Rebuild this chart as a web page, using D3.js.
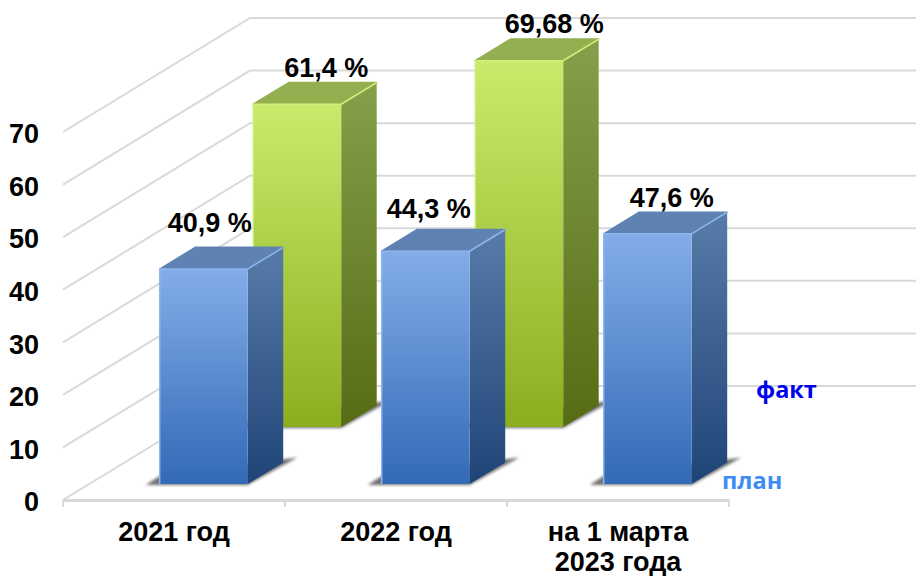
<!DOCTYPE html>
<html>
<head>
<meta charset="utf-8">
<script src="https://cdn.jsdelivr.net/npm/d3@7"></script>
<style>
  html, body { margin: 0; padding: 0; background: #fff; }
  svg { display: block; }
  text { font-family: "Liberation Sans", Arial, sans-serif; font-weight: bold; fill: #000; }
</style>
</head>
<body>
<svg id="chart" width="916" height="576"></svg>
<script>
const categories = ["2021 год", "2022 год", "на 1 марта|2023 года"];
const planValues = [40.9, 44.3, 47.6];
const factValues = [61.4, 69.68];
const yTicks = [0, 10, 20, 30, 40, 50, 60, 70];
const seriesNames = ["факт", "план"];

const svg = d3.select("#chart");

const x = d3.scaleBand().domain(categories).range([63, 729]);
const y = d3.scaleLinear().domain([0, 70]).range([500, 132]);

// oblique projection: depth 0 is the front plane, 1 is the back wall
const depthX = 187;
const depthY = 114;
const px = (xv, z) => xv + z * depthX;
const py = (v, z) => y(v) - z * depthY;

const barW = 88;
const barInset = 70.5;
const barDepth = 0.19;
const planZ = 0.14;
const factZ = 0.64;
const gridColor = "#d9d9d9";
const fontSize = "27px";

const defs = svg.append("defs");
function gradient(id, x2, y2, c0, c1) {
  const g = defs.append("linearGradient").attr("id", id)
    .attr("x1", 0).attr("y1", 0).attr("x2", x2).attr("y2", y2);
  g.append("stop").attr("offset", 0).attr("stop-color", c0);
  g.append("stop").attr("offset", 1).attr("stop-color", c1);
}
gradient("planFront", 0, 1, "#83ade9", "#3369b6");
gradient("planSide", 0, 1, "#577ca9", "#1f4477");
gradient("factFront", 0, 1, "#c8eb6b", "#8bae20");
gradient("factSide", 0, 1, "#84a04a", "#566c14");
defs.append("filter").attr("id", "soft")
  .attr("x", "-30%").attr("y", "-30%").attr("width", "160%").attr("height", "160%")
  .append("feGaussianBlur").attr("stdDeviation", 1.6);
defs.append("filter").attr("id", "edge")
  .append("feGaussianBlur").attr("stdDeviation", 0.5);

// walls
const grid = svg.append("g").attr("fill", "none")
  .attr("stroke", gridColor).attr("stroke-width", 2);
grid.selectAll("path").data(yTicks).join("path")
  .attr("d", (d) => d3.line()([
    [px(63, 0), py(d, 0)],
    [px(63, 1), py(d, 1)],
    [px(729, 1), py(d, 1)],
  ]));

// axes
const xAxis = svg.append("g")
  .attr("transform", `translate(0,${y(0)})`)
  .call(d3.axisBottom(x).tickSize(0).tickPadding(19));
xAxis.select(".domain").attr("stroke", gridColor).attr("stroke-width", 3);
xAxis.selectAll("text").style("font-size", fontSize).each(function (d) {
  const lines = d.split("|");
  const t = d3.select(this).text(null).attr("dy", null).attr("y", 41);
  lines.forEach((l, i) => {
    t.append("tspan").attr("x", 0).attr("y", 41 + i * 30).text(l);
  });
});
xAxis.selectAll(".edge-tick")
  .data([...categories.map((c) => x(c)), 729])
  .join("line")
  .attr("x1", (d) => d).attr("x2", (d) => d)
  .attr("y1", 0).attr("y2", 7)
  .attr("stroke", gridColor).attr("stroke-width", 2);

const yAxis = svg.append("g")
  .attr("transform", "translate(39,0)")
  .call(d3.axisLeft(y).tickValues(yTicks).tickSize(0).tickPadding(0));
yAxis.select(".domain").remove();
yAxis.selectAll("text").style("font-size", fontSize).attr("dy", "0.4em");

// one box per value
function drawBar(parent, cat, value, z, key) {
  const x0 = x(cat) + barInset;
  const x1 = x0 + barW;
  const z1 = z + barDepth;
  const g = parent.append("g");
  const poly = (pts) => d3.line()(pts) + "Z";
  const topColor = key === "plan" ? "#5e83b3" : "#94af50";

  // floor shadow, only its tips show past the box
  g.append("path")
    .attr("d", poly([
      [px(x0, z) - 14, py(0, z) + 1],
      [px(x0, z), py(0, z) - 8],
      [px(x1, z1) + 14, py(0, z1) - 5],
      [px(x1, z), py(0, z) + 1],
    ]))
    .attr("fill", "#707070")
    .attr("filter", "url(#soft)");

  g.append("path")
    .attr("d", poly([
      [px(x1, z), py(value, z)],
      [px(x1, z1), py(value, z1)],
      [px(x1, z1), py(0, z1)],
      [px(x1, z), py(0, z)],
    ]))
    .attr("fill", `url(#${key}Side)`);

  g.append("path")
    .attr("d", poly([
      [px(x0, z), py(value, z)],
      [px(x0, z1), py(value, z1)],
      [px(x1, z1), py(value, z1)],
      [px(x1, z), py(value, z)],
    ]))
    .attr("fill", topColor)
    .attr("stroke", topColor)
    .attr("stroke-width", 1.5)
    .attr("stroke-linejoin", "round");

  g.append("rect")
    .attr("x", px(x0, z))
    .attr("y", py(value, z))
    .attr("width", barW)
    .attr("height", y(0) - y(value))
    .attr("rx", 1.5)
    .attr("fill", `url(#${key}Front)`);

  // light bevel along the front top and the side edge
  g.append("path")
    .attr("d", d3.line()([
      [px(x0, z), py(0, z)],
      [px(x0, z), py(value, z)],
      [px(x1, z), py(value, z)],
      [px(x1, z1), py(value, z1)],
    ]))
    .attr("fill", "none")
    .attr("stroke", key === "plan" ? "#8fb6ee" : "#d3f07e")
    .attr("stroke-width", 1.5)
    .attr("filter", "url(#edge)");
}

const bars = svg.append("g");
factValues.forEach((v, i) => drawBar(bars, categories[i], v, factZ, "fact"));
planValues.forEach((v, i) => drawBar(bars, categories[i], v, planZ, "plan"));

// value labels sit where they were placed by hand in the original
const fmt = (v) => String(v).replace(".", ",") + " %";
const planNudge = [[6, -15], [3, -11], [24, -5]];
const factNudge = [[29, -6], [35, -6]];
function drawLabels(values, z, nudge) {
  svg.append("g").selectAll("text").data(values).join("text")
    .attr("text-anchor", "middle")
    .style("font-size", fontSize)
    .attr("x", (d, i) => px(x(categories[i]) + barInset + barW / 2, z) + nudge[i][0])
    .attr("y", (d, i) => py(d, z + barDepth) + nudge[i][1])
    .text(fmt);
}
drawLabels(factValues, factZ, factNudge);
drawLabels(planValues, planZ, planNudge);

// series names
const nameColors = ["#0000f0", "#3b8cf5"];
const nameX = [756, 722];
const nameY = [398, 489];
svg.append("g").selectAll("text").data(seriesNames).join("text")
  .attr("x", (d, i) => nameX[i])
  .attr("y", (d, i) => nameY[i])
  .style("font-family", '"Open Sans", sans-serif')
  .style("font-size", "23.5px")
  .style("fill", (d, i) => nameColors[i])
  .text((d) => d);
</script>
</body>
</html>
